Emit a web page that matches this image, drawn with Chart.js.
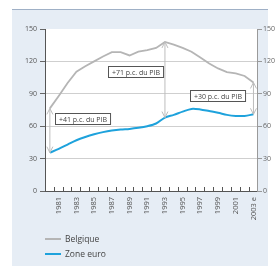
<!DOCTYPE html>
<html>
<head>
<meta charset="utf-8">
<script src="https://cdn.jsdelivr.net/npm/chart.js@4.4.0/dist/chart.umd.min.js"></script>
<style>
    html, body { margin: 0; padding: 0; background: #fff; }
    #wrap { position: relative; width: 275px; height: 267px; overflow: hidden; }
    #panel { position: absolute; left: 12px; top: 9px; width: 256px; height: 256px; background: #e6edf5; border-top: 1px solid #9fb0c6; }
    #chart { position: absolute; left: 0; top: 0; }
    .legend-item { position: absolute; left: 45px; height: 12px; font: 8.5px "Open Sans", sans-serif; color: #444; line-height: 12px; }
    .legend-item .swatch { position: absolute; left: 0; top: 5px; width: 16px; height: 2px; }
    .legend-item .label { position: absolute; left: 20px; top: 0; white-space: nowrap; }
</style>
</head>
<body>
<div id="wrap">
    <div id="panel"></div>
    <canvas id="chart" width="275" height="267"></canvas>
    <div class="legend-item" style="top:233px"><span class="swatch" style="background:#b5b5b5"></span><span class="label">Belgique</span></div>
    <div class="legend-item" style="top:248px"><span class="swatch" style="background:#1ea2dc"></span><span class="label">Zone euro</span></div>
</div>
<script>
// Data
const years = [1980, 1981, 1982, 1983, 1984, 1985, 1986, 1987, 1988, 1989, 1990, 1991,
               1992, 1993, 1994, 1995, 1996, 1997, 1998, 1999, 2000, 2001, 2002, 2003];
const belgique = [76.5, 88, 100, 110.5, 115.5, 120, 124.5, 128.5, 128.5, 125.5, 129, 130.5,
                  132.5, 138, 135.5, 132.5, 129, 123.5, 118, 113.5, 110, 109, 106.5, 100.5];
const zoneEuro = [35.5, 39, 43, 47, 50, 52.5, 54.5, 56, 57, 57.5, 58.5, 60,
                  62.5, 68, 70.5, 73.5, 76, 75.5, 74, 72.5, 70.5, 69.5, 69.5, 71];
const yTicks = [0, 30, 60, 90, 120, 150];
const xLabels = { 1981: '1981', 1983: '1983', 1985: '1985', 1987: '1987', 1989: '1989', 1991: '1991',
                  1993: '1993', 1995: '1995', 1997: '1997', 1999: '1999', 2001: '2001', 2003: '2003 e' };
const gaps = [
    { year: 1980, text: '+41 p.c. du PIB' },
    { year: 1993, text: '+71 p.c. du PIB' },
    { year: 2003, text: '+30 p.c. du PIB' }
];

const FONT = '"Open Sans", sans-serif';

// where each gap's box sits (left edge year, centre value)
const boxAnchor = { 1980: [1980.55, 67.3], 1993: [1986.55, 110.9], 2003: [1995.85, 88.6] };

const plotBackground = {
    id: 'plotBackground',
    beforeDraw(chart) {
        const { ctx, chartArea: a } = chart;
        ctx.save();
        ctx.fillStyle = '#fff';
        ctx.fillRect(a.left, a.top, a.right - a.left, a.bottom - a.top);
        ctx.restore();
    }
};

function arrowHead(ctx, x, y, dir) {
    ctx.beginPath();
    ctx.moveTo(x - 3, y + dir * 6);
    ctx.lineTo(x, y);
    ctx.lineTo(x + 3, y + dir * 6);
    ctx.stroke();
}

const gapArrows = {
    id: 'gapArrows',
    afterDatasetsDraw(chart) {
        const { ctx, scales: { x, y } } = chart;
        ctx.save();
        gaps.forEach(g => {
            const i = years.indexOf(g.year);
            const px = x.getPixelForValue(g.year);
            const top = y.getPixelForValue(belgique[i]);
            const bot = y.getPixelForValue(zoneEuro[i]);
            ctx.strokeStyle = '#bdbdbd';
            ctx.lineWidth = 1;
            ctx.beginPath();
            ctx.moveTo(px, top);
            ctx.lineTo(px, bot);
            ctx.stroke();
            arrowHead(ctx, px, top, 1);
            arrowHead(ctx, px, bot, -1);

            // label box
            ctx.font = '7px ' + FONT;
            const w = ctx.measureText(g.text).width + 7;
            const [ax, av] = boxAnchor[g.year];
            const bx = Math.round(x.getPixelForValue(ax)) + 0.5;
            const by = Math.round(y.getPixelForValue(av) - 5.5) + 0.5;
            ctx.fillStyle = '#fff';
            ctx.fillRect(bx, by, w, 11);
            ctx.strokeStyle = '#555';
            ctx.strokeRect(bx, by, w, 11);
            ctx.fillStyle = '#444';
            ctx.textBaseline = 'middle';
            ctx.fillText(g.text, bx + 3.5, by + 6);
        });
        ctx.restore();
    }
};

new Chart(document.getElementById('chart'), {
    type: 'line',
    data: {
        datasets: [
            {
                label: 'Belgique',
                data: years.map((yr, i) => ({ x: yr, y: belgique[i] })),
                borderColor: '#b5b5b5',
                borderWidth: 1.8,
                pointRadius: 0,
                tension: 0
            },
            {
                label: 'Zone euro',
                data: years.map((yr, i) => ({ x: yr, y: zoneEuro[i] })),
                borderColor: '#1ea2dc',
                borderWidth: 2,
                pointRadius: 0,
                tension: 0.3
            }
        ]
    },
    options: {
        responsive: false,
        animation: false,
        devicePixelRatio: 1,
        layout: { padding: { top: 29, left: 0, right: 0, bottom: 40 } },
        plugins: { legend: { display: false }, tooltip: { enabled: false } },
        scales: {
            x: {
                type: 'linear', position: 'bottom', weight: 1,
                min: 1979.45, max: 2003.4,
                afterBuildTicks: s => { s.ticks = years.map(v => ({ value: v })); },
                afterFit: s => { s.height = 36; },
                grid: { display: false, drawTicks: false },
                border: { color: '#555', width: 1 },
                ticks: {
                    autoSkip: false, maxRotation: 90, minRotation: 90, padding: 6,
                    color: '#555', font: { size: 7.5, family: FONT },
                    callback: v => xLabels[v] || ''
                }
            },
            x2: {
                type: 'linear', position: 'bottom', weight: 0,
                min: 1979.45, max: 2003.4,
                afterBuildTicks: s => { s.ticks = years.slice(0, -1).map(v => ({ value: v + 0.5 })); },
                afterFit: s => { s.height = 0; },
                grid: { drawOnChartArea: false, drawTicks: true, tickLength: -4, tickColor: '#555' },
                border: { display: false },
                ticks: { display: false }
            },
            y: {
                position: 'left', min: 0, max: 150,
                afterBuildTicks: s => { s.ticks = yTicks.map(v => ({ value: v })); },
                afterFit: s => { s.width = 45; },
                grid: {
                    color: c => (c.tick && c.tick.value > 0 && c.tick.value < 150) ? '#cfcfcf' : 'rgba(0,0,0,0)',
                    tickColor: '#666', tickLength: 5
                },
                border: { color: '#555', width: 1 },
                ticks: { color: '#555', font: { size: 7, family: FONT }, padding: 3 }
            },
            y2: {
                position: 'right', min: 0, max: 150,
                afterBuildTicks: s => { s.ticks = yTicks.map(v => ({ value: v })); },
                afterFit: s => { s.width = 18; },
                grid: { drawOnChartArea: false, tickColor: '#999', tickLength: 5 },
                border: { color: '#9a9a9a', width: 1 },
                ticks: { color: '#666', font: { size: 7, family: FONT }, padding: 1 }
            }
        }
    },
    plugins: [plotBackground, gapArrows]
});
</script>
</body>
</html>
